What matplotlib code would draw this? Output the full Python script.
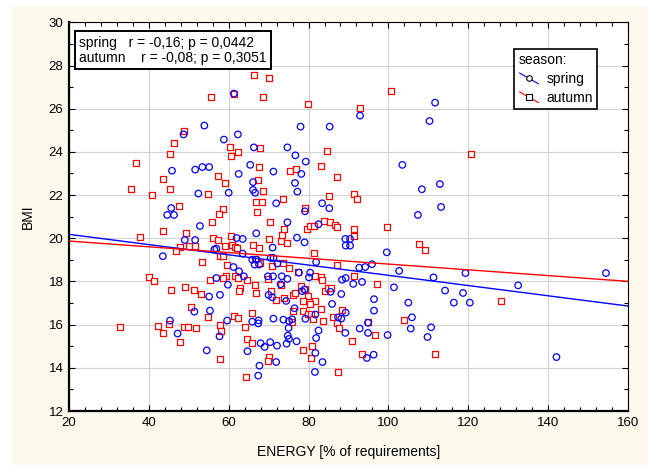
import numpy as np
import matplotlib
matplotlib.use('Agg')
import matplotlib.pyplot as plt
from matplotlib.lines import Line2D
from matplotlib.patches import Rectangle
from matplotlib.legend_handler import HandlerBase
from matplotlib.ticker import MultipleLocator

plt.rcParams['font.family'] = ['Liberation Sans', 'DejaVu Sans']

# spring (blue circles): energy [% of requirements], BMI
spring_energy = [61.3, 111.7, 92.9, 110.3, 53.9, 78.0, 85.3, 48.7, 62.3, 58.8,
                 66.3, 74.7, 76.7, 79.3, 45.8, 51.6, 53.4, 55.1, 65.4, 62.5,
                 71.2, 78.2, 103.5, 66.1, 76.6, 66.1, 66.6, 60.0, 52.4, 77.2,
                 112.9, 108.4, 113.2, 45.6, 44.6, 46.3, 71.9, 83.4, 85.2, 79.1,
                 107.4, 52.8, 74.7, 82.5, 66.9, 77.1, 79.0, 49.0, 51.6, 62.0,
                 63.5, 56.4, 56.9, 71.0, 89.2, 90.4, 89.3, 90.4, 99.6, 43.5,
                 63.5, 65.9, 67.0, 70.5, 71.2, 66.5, 67.6, 72.2, 81.9, 95.9,
                 94.2, 92.7, 102.7, 119.3, 154.5, 61.2, 62.6, 63.8, 56.9, 59.8,
                 69.8, 71.1, 73.3, 74.7, 73.0, 77.6, 80.4, 80.1, 88.4, 89.3,
                 91.2, 93.4, 111.3, 132.5, 101.4, 55.1, 57.8, 70.0, 70.9, 78.4,
                 79.0, 85.5, 88.2, 114.2, 118.7, 96.4, 74.4, 85.9, 105.0, 116.4,
                 120.4, 76.5, 96.4, 51.4, 55.3, 89.3, 81.7, 79.2, 87.4, 88.2,
                 45.3, 59.6, 65.9, 67.5, 67.4, 71.2, 73.7, 75.1, 75.9, 105.9,
                 94.9, 75.0, 92.8, 105.6, 110.7, 94.9, 89.2, 82.5, 99.8, 47.2,
                 57.7, 74.8, 75.1, 81.9, 109.8, 68.0, 70.4, 69.0, 72.1, 74.5,
                 77.0, 54.5, 64.7, 81.7, 96.3, 94.6, 142.1, 83.5, 71.9, 67.7,
                 67.4, 81.6]
spring_bmi = [26.7, 26.28, 25.68, 25.43, 25.22, 25.17, 25.17, 24.81, 24.81, 24.57,
              24.21, 24.21, 23.84, 23.55, 23.13, 23.18, 23.3, 23.3, 23.4, 22.98,
              23.09, 22.98, 23.4, 22.6, 22.56, 22.24, 22.11, 22.11, 22.07, 22.16,
              22.51, 22.27, 21.45, 21.4, 21.08, 21.08, 21.62, 21.62, 21.39, 21.25,
              21.08, 20.57, 20.74, 20.65, 20.23, 20.03, 19.81, 19.92, 19.92, 20.01,
              19.97, 19.48, 19.52, 19.57, 19.97, 19.97, 19.66, 19.66, 19.35, 19.17,
              19.29, 19.01, 19.01, 19.09, 19.09, 18.78, 18.78, 18.83, 18.9, 18.8,
              18.67, 18.64, 18.49, 18.39, 18.39, 18.67, 18.47, 18.24, 18.16, 17.85,
              18.24, 18.24, 18.24, 18.12, 17.87, 18.41, 18.41, 18.19, 18.08, 18.16,
              17.89, 17.98, 18.19, 17.82, 17.73, 17.3, 17.38, 17.38, 17.27, 17.55,
              17.62, 17.52, 17.42, 17.58, 17.47, 17.18, 17.1, 16.96, 17.02, 17.02,
              17.02, 16.76, 16.65, 16.6, 16.65, 16.56, 16.47, 16.27, 16.34, 16.28,
              16.19, 16.19, 16.14, 16.2, 16.06, 16.28, 16.23, 16.17, 16.25, 16.34,
              16.09, 15.85, 15.82, 15.82, 15.88, 15.62, 15.62, 15.73, 15.52, 15.59,
              15.46, 15.49, 15.34, 15.38, 15.43, 15.14, 15.19, 14.97, 15.03, 15.12,
              15.23, 14.81, 14.77, 14.69, 14.61, 14.46, 14.5, 14.27, 14.27, 14.1,
              13.64, 13.81]

# autumn (red squares)
autumn_energy = [66.4, 70.1, 61.3, 55.6, 68.7, 100.7, 79.9, 93.0, 48.7, 46.4,
                 45.2, 36.9, 43.6, 35.6, 45.2, 40.9, 47.6, 37.8, 43.6, 49.3,
                 50.1, 51.6, 47.7, 46.9, 53.3, 40.1, 41.2, 45.5, 49.0, 51.4,
                 53.1, 50.6, 54.9, 32.8, 42.4, 45.0, 48.7, 49.7, 51.9, 43.6,
                 47.7, 57.8, 64.3, 54.8, 57.2, 59.1, 58.5, 57.6, 55.9, 60.4,
                 60.6, 62.4, 67.8, 67.5, 67.3, 68.6, 66.9, 68.4, 67.0, 70.4,
                 73.7, 75.4, 76.9, 79.1, 83.1, 84.5, 87.2, 85.2, 91.4, 92.2,
                 120.7, 56.1, 57.2, 59.1, 60.7, 60.9, 61.7, 62.1, 57.7, 58.6,
                 59.5, 59.3, 61.6, 62.4, 64.5, 58.6, 55.3, 66.1, 67.5, 67.8,
                 66.6, 62.8, 62.6, 66.7, 66.8, 70.2, 73.2, 74.6, 73.4, 73.9,
                 70.9, 73.7, 75.0, 69.8, 73.1, 70.7, 71.9, 73.9, 76.2, 76.5,
                 78.2, 79.0, 77.3, 81.5, 83.1, 83.3, 79.6, 80.3, 81.3, 81.3,
                 83.9, 85.3, 86.6, 87.2, 91.4, 91.4, 99.7, 107.7, 109.1, 87.2,
                 91.4, 97.2, 79.8, 78.6, 81.7, 83.0, 84.1, 84.9, 85.7, 80.4,
                 76.1, 78.5, 79.8, 80.6, 81.2, 83.5, 88.5, 86.2, 87.2, 87.6,
                 75.8, 65.8, 61.4, 62.4, 57.8, 58.0, 64.0, 64.6, 65.8, 70.1,
                 69.9, 78.7, 80.9, 80.7, 87.5, 90.9, 93.5, 96.6, 94.8, 104.0,
                 111.6, 128.2]
autumn_bmi = [27.56, 27.4, 26.7, 26.55, 26.55, 26.8, 26.2, 26.05, 24.97, 24.4,
              23.9, 23.5, 22.76, 22.27, 22.27, 22.02, 21.5, 20.08, 20.34, 20.23,
              19.65, 19.65, 19.6, 19.4, 18.9, 18.19, 18.04, 17.62, 17.73, 17.62,
              17.42, 16.8, 16.37, 15.9, 15.94, 16.05, 15.9, 15.9, 15.83, 15.6,
              15.18, 14.41, 13.6, 22.07, 22.9, 22.56, 21.36, 21.14, 20.74, 24.21,
              23.83, 24.0, 24.2, 23.29, 22.69, 22.2, 21.7, 21.67, 21.2, 20.77,
              21.8, 23.13, 23.2, 21.4, 23.33, 24.04, 22.82, 21.96, 22.07, 21.8,
              23.89, 20.03, 19.92, 19.65, 20.12, 19.7, 19.6, 19.54, 19.17, 19.17,
              18.75, 18.27, 18.27, 18.16, 18.05, 18.16, 18.05, 19.68, 19.57, 18.84,
              19.06, 17.72, 17.56, 17.82, 17.47, 19.97, 19.88, 19.77, 20.14, 20.43,
              18.73, 18.87, 18.61, 18.13, 17.85, 17.58, 17.13, 17.22, 17.38, 17.48,
              17.79, 17.65, 18.46, 18.27, 18.19, 18.05, 20.45, 20.59, 20.59, 19.34,
              20.82, 20.74, 20.62, 20.52, 20.43, 20.12, 20.52, 19.72, 19.46, 18.75,
              18.27, 17.87, 17.31, 17.08, 17.08, 16.74, 17.56, 17.72, 17.72, 16.97,
              16.64, 16.64, 16.5, 16.5, 16.28, 16.16, 16.7, 16.34, 16.1, 15.85,
              16.14, 16.56, 16.42, 16.31, 16.0, 15.71, 15.88, 15.34, 15.15, 14.52,
              14.31, 14.81, 15.03, 14.46, 13.8, 15.23, 14.63, 15.54, 16.11, 16.2,
              14.63, 17.11]

stats_text = "spring   r = -0,16; p = 0,0442\nautumn    r = -0,08; p = 0,3051"


class DiagHandler(HandlerBase):
    # Statistica-style legend key: diagonal line with a black marker
    def create_artists(self, legend, orig, xd, yd, w, h, fontsize, trans):
        x0, y0 = -xd, -yd
        ln = Line2D([x0 + 0.05 * w, x0 + 0.95 * w], [y0 + h * 1.0, y0 - h * 0.1],
                    color=orig.get_color(), lw=0.8, transform=trans)
        mk = Line2D([x0 + w / 2], [y0 + h * 0.45], marker=orig.get_marker(), ms=4,
                    mfc='white', mec='black', mew=0.8, ls='none', transform=trans)
        return [ln, mk]


fig = plt.figure(figsize=(6.48, 4.65), dpi=100, facecolor='white')
fig.patches.append(Rectangle((0.018, 0.0), 0.982, 0.985, transform=fig.transFigure,
                             facecolor='#fdf9ed', edgecolor='none', zorder=-10))
ax = fig.add_axes([0.1065, 0.116, 0.8625, 0.836])
ax.set_facecolor('white')

se, sb = np.array(spring_energy), np.array(spring_bmi)
ae, ab = np.array(autumn_energy), np.array(autumn_bmi)

ax.scatter(ae, ab, marker='s', s=19, facecolors='white', edgecolors='#ff0000',
           linewidths=0.9, zorder=3)
ax.scatter(se, sb, marker='o', s=22, facecolors='none', edgecolors='#0000ff',
           linewidths=0.9, zorder=4)

xx = np.array([20, 160])
k, b = np.polyfit(se, sb, 1)
ax.plot(xx, k * xx + b, color='#0000ff', lw=1.0, zorder=5)
k, b = np.polyfit(ae, ab, 1)
ax.plot(xx, k * xx + b, color='#ff0000', lw=1.0, zorder=5)

ax.set_xlim(20, 160)
ax.set_ylim(12, 30)
ax.xaxis.set_major_locator(MultipleLocator(20))
ax.xaxis.set_minor_locator(MultipleLocator(4))
ax.yaxis.set_major_locator(MultipleLocator(2))
ax.yaxis.set_minor_locator(MultipleLocator(1))
ax.tick_params(which='both', direction='in', top=True, right=True,
               labelsize=9.5, width=0.8)
ax.tick_params(which='major', length=4, pad=4)
ax.tick_params(which='minor', length=3)
ax.grid(True, which='major', color='#d2d2d2', lw=0.8)
ax.set_axisbelow(True)
for side in ['left', 'bottom']:
    ax.spines[side].set_linewidth(1.6)
for side in ['top', 'right']:
    ax.spines[side].set_linewidth(0.8)

ax.set_xlabel('ENERGY [% of requirements]', fontsize=10, labelpad=12)
ax.set_ylabel('BMI', fontsize=10, labelpad=10)

ax.text(0.018, 0.966, stats_text, transform=ax.transAxes, va='top', ha='left',
        fontsize=10, linespacing=1.1, zorder=10,
        bbox=dict(boxstyle='square,pad=0.3', fc='white', ec='black', lw=1.4))

h1 = Line2D([], [], color='#0000ff', marker='o')
h2 = Line2D([], [], color='#ff0000', marker='s')
leg = ax.legend([h1, h2], ['spring', 'autumn'], title='season:',
                handler_map={Line2D: DiagHandler()},
                loc='upper left', bbox_to_anchor=(0.797, 0.932), borderaxespad=0,
                fontsize=10, title_fontsize=10, fancybox=False, framealpha=1,
                edgecolor='black', alignment='left', handlelength=1.5,
                handletextpad=0.5, labelspacing=0.35, borderpad=0.3)
leg.get_frame().set_linewidth(1.2)

fig.savefig('out.png', dpi=100, facecolor=fig.get_facecolor())
